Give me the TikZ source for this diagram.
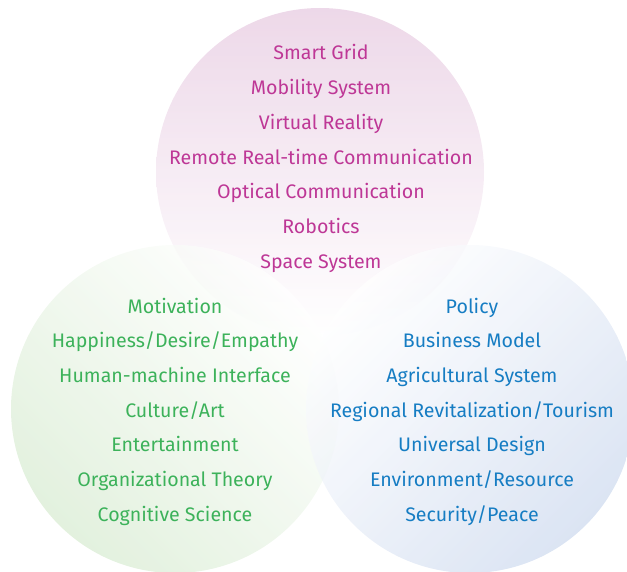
\documentclass[tikz,border=0pt]{standalone}
\usepackage{fontspec}
\setmainfont{Fira Sans}
\usetikzlibrary{positioning}
\definecolor{techfill}{HTML}{E7CBE1}
\definecolor{humanfill}{HTML}{D9ECD3}
\definecolor{socialfill}{HTML}{CFDBEF}
\definecolor{techtext}{HTML}{BE3796}
\definecolor{humantext}{HTML}{3CB25A}
\definecolor{socialtext}{HTML}{167DC3}
\tikzset{area/.style={circle, minimum size=328pt, inner sep=0pt, fill opacity=0.75}}
\tikzset{item/.style={font=\fontsize{19.6}{22}\selectfont, inner sep=0pt, anchor=base}}

\begin{document}
\begin{tikzpicture}[x=1pt,y=-1pt]
\useasboundingbox (0,0) rectangle (627,572);

\node[area, top color=techfill, bottom color=white] (tech) at (320,172) {};
\node[area, top color=white, bottom color=humanfill, shading angle=-45] (human) at (175,409) {};
\node[area, top color=white, bottom color=socialfill, shading angle=45] (social) at (470,409) {};

\foreach \t [count=\i] in {Smart Grid, Mobility System, Virtual Reality,
    Remote Real-time Communication, Optical Communication, Robotics, Space System}
  \node[item, techtext] (tech\i) at (321,60+34.7*\i-34.7) {\t};

\foreach \t [count=\i] in {Motivation, Happiness/Desire/Empathy,
    Human-machine Interface, Culture/Art, Entertainment,
    Organizational Theory, Cognitive Science}
  \node[item, humantext] (human\i) at (175,313+34.7*\i-34.7) {\t};

\foreach \t [count=\i] in {Policy, Business Model, Agricultural System,
    Regional Revitalization/Tourism, Universal Design,
    Environment/Resource, Security/Peace}
  \node[item, socialtext] (social\i) at (472,313+34.7*\i-34.7) {\t};
\end{tikzpicture}
\end{document}
